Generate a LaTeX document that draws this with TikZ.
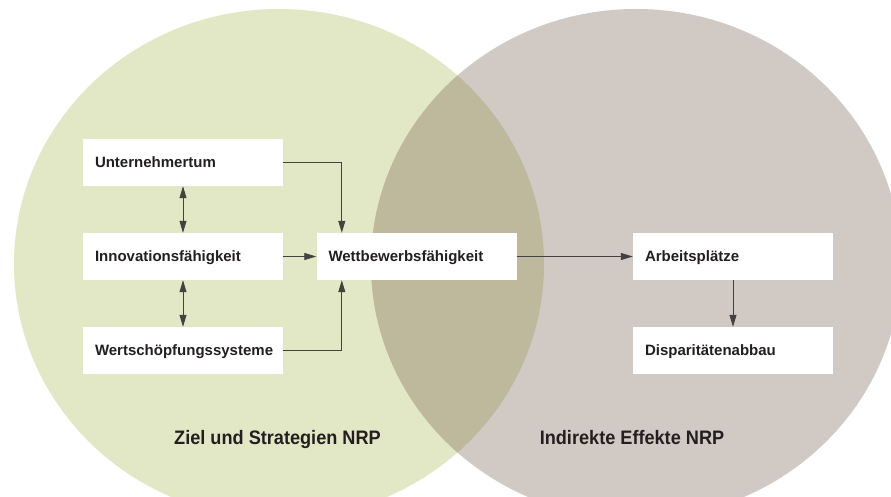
\documentclass[tikz,border=0pt]{standalone}
\usepackage{fontspec}
\setmainfont{Liberation Sans}
\newfontfamily\labelfont[FakeStretch=0.93]{Liberation Sans}
\usetikzlibrary{arrows.meta}
\definecolor{lgreen}{HTML}{E2E7C5}
\definecolor{lbrown}{HTML}{D1C9C4}
\definecolor{olap}{HTML}{BEB99C}
\definecolor{ink}{HTML}{231F20}
\begin{document}
\begin{tikzpicture}[x=1pt,y=-1pt,
  boxnode/.style={fill=white, minimum width=200pt, minimum height=47pt,
    inner xsep=12pt, inner ysep=0pt, text width=176pt, align=left,
    text height=10.7pt, text depth=0pt,
    font=\fontsize{15}{18}\selectfont\bfseries, text=ink},
  conn/.style={draw=ink!85, line width=0.8pt, -{Triangle[length=12pt,width=7pt]}},
  biconn/.style={draw=ink!85, line width=0.8pt, {Triangle[length=12pt,width=7pt]}-{Triangle[length=12pt,width=7pt]}},
  circlabel/.style={font=\labelfont\fontsize{19.5}{22}\selectfont\bfseries, text=ink, anchor=base}
]
\useasboundingbox (0,0) rectangle (891,497);
\clip (0,0) rectangle (891,497);
\fill[white] (0,0) rectangle (891,497);
% circles
\fill[lgreen] (279,264) ellipse [x radius=265, y radius=255];
\fill[lbrown] (636,264) ellipse [x radius=265, y radius=255];
\begin{scope}
  \clip (279,264) ellipse [x radius=265, y radius=255];
  \fill[olap] (636,264) ellipse [x radius=265, y radius=255];
\end{scope}
% boxes
\node[boxnode] (u) at (183,162.5) {Unternehmertum};
\node[boxnode] (i) at (183,256.5) {Innovationsfähigkeit};
\node[boxnode] (w) at (183,350.5) {Wertschöpfungssysteme};
\node[boxnode] (wett) at (416.5,256.5) {Wettbewerbsfähigkeit};
\node[boxnode] (a) at (733,256.5) {Arbeitsplätze};
\node[boxnode] (d) at (733,350.5) {Disparitätenabbau};
% connectors
\draw[conn] (u.east) -| ([xshift=25.5pt]wett.north west);
\draw[conn] (w.east) -| ([xshift=25.5pt]wett.south west);
\draw[conn] (i.east) -- (wett.west);
\draw[biconn] (u.south) -- (i.north);
\draw[biconn] (i.south) -- (w.north);
\draw[conn] (wett.east) -- (a.west);
\draw[conn] (a.south) -- (d.north);
% labels
\node[circlabel] (zl) at (277.5,444) {Ziel und Strategien NRP};
\node[circlabel] (ie) at (632,444) {Indirekte Effekte NRP};
\end{tikzpicture}
\end{document}
